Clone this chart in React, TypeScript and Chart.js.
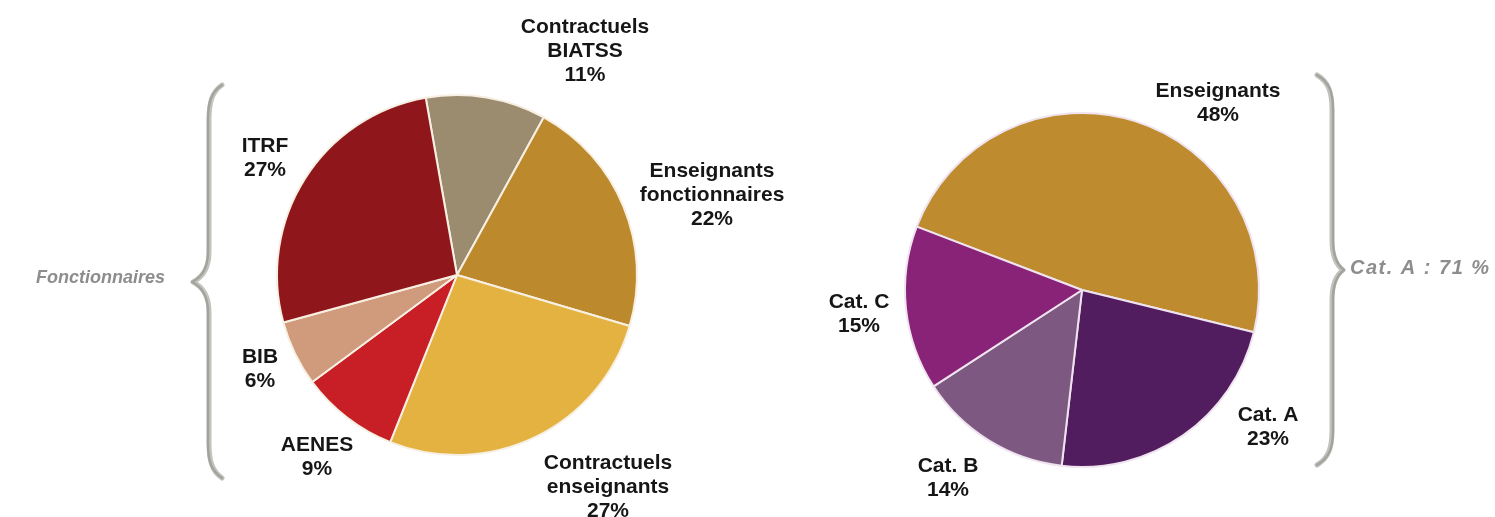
import React, { useEffect, useRef } from "react";
import { Chart, registerables } from "chart.js";

Chart.register(...registerables);

// ---- Data: left pie (Fonctionnaires / contractuels) ----
const leftCategories = [
  "Contractuels BIATSS",
  "Enseignants fonctionnaires",
  "Contractuels enseignants",
  "AENES",
  "BIB",
  "ITRF",
];
const leftLabelLines = [
  ["Contractuels", "BIATSS"],
  ["Enseignants", "fonctionnaires"],
  ["Contractuels", "enseignants"],
  ["AENES"],
  ["BIB"],
  ["ITRF"],
];
const leftValues = [11, 22, 27, 9, 6, 27];

// ---- Data: right pie (categories) ----
const rightCategories = ["Enseignants", "Cat. A", "Cat. B", "Cat. C"];
const rightLabelLines = [["Enseignants"], ["Cat. A"], ["Cat. B"], ["Cat. C"]];
const rightValues = [48, 23, 14, 15];

// ---- Side annotations ----
const leftBraceText = "Fonctionnaires";
const rightBraceText = "Cat. A : 71 %";

// ---- Styles ----
const leftColors = ["#9b8b6f", "#bc8a2d", "#e3b241", "#c81f26", "#d09a7c", "#8f171b"];
const rightColors = ["#be8b2e", "#511d5e", "#7d5880", "#892378"];

// label anchor offsets (text block centre) relative to pie centre, px
const leftLabelOffsets = [
  [128, -224],
  [255, -80],
  [151, 212],
  [-140, 182],
  [-197, 94],
  [-192, -117],
];
const rightLabelOffsets = [
  [136, -187],
  [186, 137],
  [-134, 188],
  [-223, 24],
];

const LABEL_FONT = 'bold 21px "Liberation Sans", Arial, Helvetica, sans-serif';
const LINE_H = 24;
const SIDE_FONT_LEFT = 'italic bold 18px "Liberation Sans", Arial, Helvetica, sans-serif';
const SIDE_FONT_RIGHT = 'italic bold 20px "Liberation Sans", Arial, Helvetica, sans-serif';

function makeLabelPlugin(lines: string[][], values: number[], offsets: number[][]) {
  return {
    id: "sliceLabels",
    afterDraw(chart: any) {
      const arc = chart.getDatasetMeta(0).data[0];
      if (!arc) return;
      const cx = arc.x;
      const cy = arc.y;
      const ctx = chart.ctx;
      ctx.save();
      ctx.font = LABEL_FONT;
      ctx.fillStyle = "#161616";
      ctx.textAlign = "center";
      ctx.textBaseline = "middle";
      values.forEach((v, i) => {
        const all = [...lines[i], `${v}%`];
        const [dx, dy] = offsets[i];
        const top = cy + dy - ((all.length - 1) * LINE_H) / 2;
        all.forEach((t, j) => ctx.fillText(t, cx + dx, top + j * LINE_H));
      });
      ctx.restore();
    },
  };
}

function drawBrace(ctx: CanvasRenderingContext2D, x0: number, xm: number, xt: number, y0: number, ym: number, y1: number) {
  const dir = Math.sign(xm - x0) || 1;
  ctx.beginPath();
  ctx.moveTo(x0, y0);
  ctx.bezierCurveTo(x0 + dir * 10 * (Math.abs(xm - x0) / 13), y0 + 7, xm, y0 + 17, xm, y0 + 35);
  ctx.lineTo(xm, ym - 30);
  ctx.bezierCurveTo(xm, ym - 12, xt - (xt - xm) * 0.5, ym - 4, xt, ym);
  ctx.bezierCurveTo(xt - (xt - xm) * 0.5, ym + 4, xm, ym + 12, xm, ym + 30);
  ctx.lineTo(xm, y1 - 35);
  ctx.bezierCurveTo(xm, y1 - 17, x0 + dir * 10 * (Math.abs(xm - x0) / 13), y1 - 7, x0, y1);
  ctx.stroke();
}

function makeSidePlugin(side: "left" | "right") {
  return {
    id: "sideBrace",
    afterDraw(chart: any) {
      const ctx: CanvasRenderingContext2D = chart.ctx;
      ctx.save();
      ctx.lineCap = "round";
      ctx.lineJoin = "round";
      ctx.strokeStyle = "#c2c3bd";
      ctx.lineWidth = 5;
      if (side === "left") {
        drawBrace(ctx, 222, 209, 193, 85, 282, 478);
      } else {
        drawBrace(ctx, 527, 542, 553, 75, 270, 465);
      }
      ctx.strokeStyle = "#a2a39d";
      ctx.lineWidth = 2.4;
      if (side === "left") {
        drawBrace(ctx, 222, 208, 192, 85, 282, 478);
      } else {
        drawBrace(ctx, 527, 543, 554, 75, 270, 465);
      }
      ctx.fillStyle = "#8d8d8d";
      ctx.textBaseline = "middle";
      if (side === "left") {
        ctx.font = SIDE_FONT_LEFT;
        ctx.textAlign = "right";
        ctx.fillText(leftBraceText, 165, 278);
      } else {
        ctx.font = SIDE_FONT_RIGHT;
        ctx.textAlign = "left";
        try {
          (ctx as any).letterSpacing = "1.5px";
        } catch (e) {}
        ctx.fillText(rightBraceText, 560, 268);
      }
      ctx.restore();
    },
  };
}

function PieCanvas(props: {
  width: number;
  height: number;
  left: number;
  labels: string[];
  values: number[];
  colors: string[];
  border: string;
  rotation: number;
  padding: { left: number; right: number; top: number; bottom: number };
  lines: string[][];
  offsets: number[][];
  side: "left" | "right";
}) {
  const ref = useRef<HTMLCanvasElement | null>(null);
  useEffect(() => {
    if (!ref.current) return;
    const chart = new Chart(ref.current, {
      type: "pie",
      data: {
        labels: props.labels,
        datasets: [
          {
            data: props.values,
            backgroundColor: props.colors,
            borderColor: props.border,
            borderWidth: 2,
          },
        ],
      },
      options: {
        animation: false,
        responsive: false,
        devicePixelRatio: 1,
        rotation: props.rotation,
        layout: { padding: props.padding },
        plugins: {
          legend: { display: false },
          tooltip: { enabled: false },
          title: { display: false },
        },
      },
      plugins: [makeLabelPlugin(props.lines, props.values, props.offsets), makeSidePlugin(props.side)],
    });
    return () => chart.destroy();
  }, []);
  return (
    <canvas
      ref={ref}
      width={props.width}
      height={props.height}
      style={{ position: "absolute", left: props.left, top: 0, width: props.width, height: props.height }}
    />
  );
}

export default function App() {
  return (
    <div style={{ position: "fixed", left: 0, top: 0, width: 1495, height: 517, background: "#ffffff", overflow: "hidden" }}>
      <PieCanvas
        width={790}
        height={517}
        left={0}
        labels={leftCategories}
        values={leftValues}
        colors={leftColors}
        border="#f7efe2"
        rotation={-10}
        padding={{ left: 276, right: 152, top: 94, bottom: 61 }}
        lines={leftLabelLines}
        offsets={leftLabelOffsets}
        side="left"
      />
      <PieCanvas
        width={705}
        height={517}
        left={790}
        labels={rightCategories}
        values={rightValues}
        colors={rightColors}
        border="#efe3ef"
        rotation={-69}
        padding={{ left: 114, right: 235, top: 112, bottom: 49 }}
        lines={rightLabelLines}
        offsets={rightLabelOffsets}
        side="right"
      />
    </div>
  );
}
